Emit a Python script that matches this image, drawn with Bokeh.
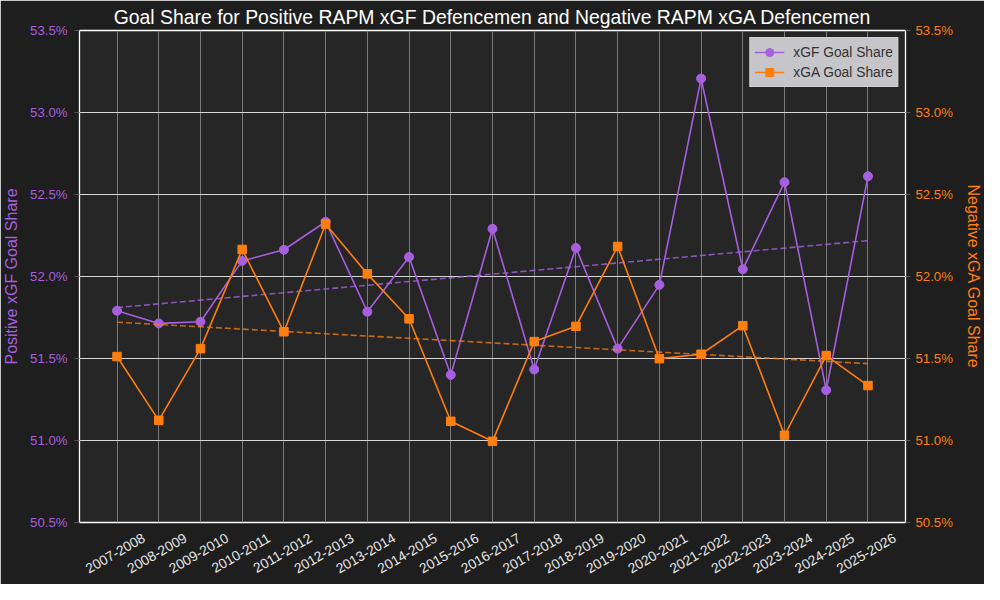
import math
import numpy as np
from bokeh.plotting import figure
from bokeh.models import (Range1d, LinearAxis, FixedTicker, PrintfTickFormatter,
                          Legend, LegendItem)
from bokeh.embed import file_html
from bokeh.resources import INLINE

seasons = ["2007-2008", "2008-2009", "2009-2010", "2010-2011", "2011-2012",
           "2012-2013", "2013-2014", "2014-2015", "2015-2016", "2016-2017",
           "2017-2018", "2018-2019", "2019-2020", "2020-2021", "2021-2022",
           "2022-2023", "2023-2024", "2024-2025", "2025-2026"]
xgf_share = [51.791, 51.714, 51.724, 52.095, 52.163, 52.334, 51.785, 52.119,
             51.400, 52.291, 51.433, 52.174, 51.560, 51.949, 53.207, 52.044,
             52.575, 51.307, 52.611]
xga_share = [51.512, 51.123, 51.560, 52.165, 51.663, 52.320, 52.016, 51.742,
             51.117, 50.995, 51.603, 51.696, 52.183, 51.499, 51.526, 51.700,
             51.032, 51.518, 51.335]
y_ticks = [50.5, 51.0, 51.5, 52.0, 52.5, 53.0, 53.5]

title_text = "Goal Share for Positive RAPM xGF Defencemen and Negative RAPM xGA Defencemen"
left_label = "Positive xGF Goal Share"
right_label = "Negative xGA Goal Share"
legend_labels = ["xGF Goal Share", "xGA Goal Share"]

PURPLE = "#a65fde"
ORANGE = "#ff7f0e"
FONT = "Liberation Sans"
BG = "#1e1e1e"
PANEL = "#262626"

idx = list(range(len(seasons)))
xgf_fit = np.polyval(np.polyfit(idx, xgf_share, 1), idx)
xga_fit = np.polyval(np.polyfit(idx, xga_share, 1), idx)

X0, X1 = -0.9, len(seasons) - 1 + 0.9
LABEL_SHIFT = 0.64  # rotated labels are centred under their season, as in the reference

p = figure(width=984, height=584, output_backend="svg", toolbar_location=None,
           x_range=Range1d(X0, X1),
           y_range=Range1d(y_ticks[0], y_ticks[-1]),
           background_fill_color=PANEL, border_fill_color=BG,
           outline_line_color="white", outline_line_width=1.3,
           min_border_left=78, min_border_right=76, min_border_top=29,
           min_border_bottom=62, title=title_text)
p.extra_y_ranges = {"right": Range1d(y_ticks[0], y_ticks[-1])}
p.extra_x_ranges = {"lab": Range1d(X0 - LABEL_SHIFT, X1 - LABEL_SHIFT)}

p.title.align = "center"
p.title.text_color = "white"
p.title.text_font = FONT
p.title.text_font_size = "19.4px"
p.title.text_font_style = "normal"
p.title.standoff = 6

# x axis (default one hidden; labelled axis below)
p.xaxis[0].visible = False
xa = LinearAxis(x_range_name="lab", ticker=FixedTicker(ticks=idx))
xa.major_label_overrides = {i: s for i, s in enumerate(seasons)}
xa.major_label_orientation = math.pi / 6
xa.major_label_text_color = "#e6e6e6"
xa.major_label_text_font = FONT
xa.major_label_text_font_size = "13.8px"
xa.major_tick_line_color = None
xa.minor_tick_line_color = None
xa.axis_line_color = None
xa.major_label_standoff = 8
p.add_layout(xa, "below")

# left axis
ya = p.yaxis[0]
ya.ticker = FixedTicker(ticks=y_ticks)
ya.formatter = PrintfTickFormatter(format="%.1f%%")
ya.major_label_text_color = PURPLE
ya.major_label_text_font = FONT
ya.major_label_text_font_size = "13.2px"
ya.major_tick_line_color = "#555555"
ya.major_tick_out = 5
ya.major_tick_in = 0
ya.minor_tick_line_color = None
ya.axis_line_color = "white"
ya.major_label_standoff = 7
ya.axis_label = left_label
ya.axis_label_text_color = PURPLE
ya.axis_label_text_font = FONT
ya.axis_label_text_font_size = "16px"
ya.axis_label_text_font_style = "normal"
ya.axis_label_standoff = 7

# right axis
ra = LinearAxis(y_range_name="right", ticker=FixedTicker(ticks=y_ticks),
                formatter=PrintfTickFormatter(format="%.1f%%"))
ra.major_label_text_color = ORANGE
ra.major_label_text_font = FONT
ra.major_label_text_font_size = "13.2px"
ra.major_tick_line_color = "#555555"
ra.major_tick_out = 5
ra.major_tick_in = 0
ra.minor_tick_line_color = None
ra.axis_line_color = "white"
ra.major_label_standoff = 5
ra.axis_label = right_label
ra.axis_label_text_color = ORANGE
ra.axis_label_text_font = FONT
ra.axis_label_text_font_size = "16px"
ra.axis_label_text_font_style = "normal"
ra.axis_label_standoff = 9
p.add_layout(ra, "right")

# grids
p.xgrid.ticker = FixedTicker(ticks=idx)
p.xgrid.grid_line_color = "#7a7a7a"
p.xgrid.grid_line_width = 1
p.ygrid.ticker = FixedTicker(ticks=y_ticks)
p.ygrid.grid_line_color = "#d6d6d6"
p.ygrid.grid_line_width = 1

# series
l1 = p.line(idx, xgf_share, line_color=PURPLE, line_width=1.6)
s1 = p.scatter(idx, xgf_share, marker="circle", size=9, fill_color=PURPLE,
               line_color=PURPLE)
p.line(idx, list(xgf_fit), line_color=PURPLE, line_width=1.6, line_dash="6 3",
       line_alpha=0.8)

l2 = p.line(idx, xga_share, line_color=ORANGE, line_width=1.6, y_range_name="right")
s2 = p.scatter(idx, xga_share, marker="square", size=8.5, fill_color=ORANGE,
               line_color=ORANGE, y_range_name="right")
p.line(idx, list(xga_fit), line_color=ORANGE, line_width=1.6, line_dash="6 3",
       line_alpha=0.75, y_range_name="right")

legend = Legend(items=[LegendItem(label=legend_labels[0], renderers=[l1, s1]),
                       LegendItem(label=legend_labels[1], renderers=[l2, s2])],
                location="top_right", margin=7, padding=4, spacing=0,
                glyph_width=30, glyph_height=20, label_height=20,
                label_standoff=9,
                label_text_font=FONT, label_text_font_size="13.8px",
                label_text_color="#333333",
                background_fill_color="#c6c6ca", background_fill_alpha=1.0,
                border_line_color="#d8d8d8", border_line_width=1)
p.add_layout(legend)

open("out.html", "w").write(file_html(p, INLINE))
